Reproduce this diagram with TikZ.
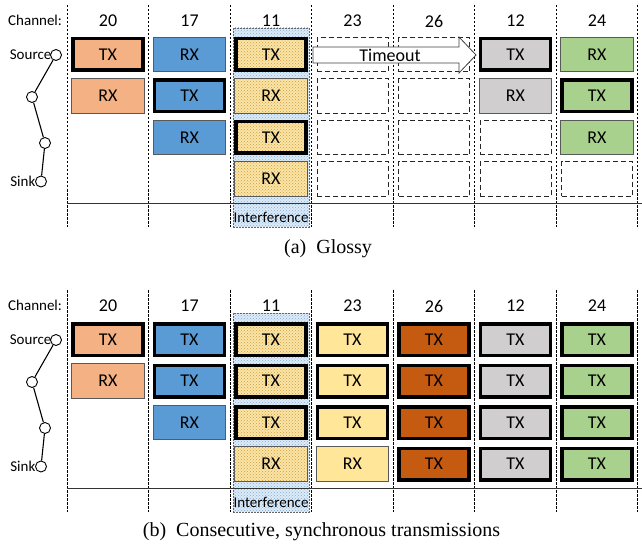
\documentclass[tikz,border=0pt]{standalone}
\usepackage{fontspec}
\setmainfont{Carlito}
\newfontfamily\capfont{Liberation Serif}
\usetikzlibrary{patterns}

\definecolor{chA}{HTML}{F4B183}  % channel 20
\definecolor{chB}{HTML}{5B9BD5}  % channel 17
\definecolor{chCbase}{HTML}{FAE6A8}
\definecolor{chCdot}{HTML}{D39A38}
\definecolor{chD}{HTML}{FFE699}  % channel 23
\definecolor{chE}{HTML}{C55A11}  % channel 26
\definecolor{chF}{HTML}{D0CECE}  % channel 12
\definecolor{chG}{HTML}{A9D18E}  % channel 24
\definecolor{intbase}{HTML}{DDEBF7}
\definecolor{intdot}{HTML}{7FAEDC}

\begin{document}
\begin{tikzpicture}[x=1pt,y=-1pt,
  slot/.style={minimum width=72.5pt, minimum height=34.5pt, inner sep=0pt,
    font=\fontsize{18}{18}\selectfont},
  tx/.style={slot, draw=black, line width=3.5pt, minimum width=70pt, minimum height=31.5pt},
  rx/.style={slot, draw=black!65, line width=0.9pt},
  idle/.style={slot, draw=black!85, line width=0.9pt, dash pattern=on 5pt off 3pt,
    minimum width=71pt},
  ch1/.style={fill=chA},
  ch2/.style={fill=chB},
  ch3/.style={preaction={fill=chCbase}, preaction={pattern=crosshatch dots, pattern color=chCdot}},
  ch4/.style={fill=chD},
  ch5/.style={fill=chE},
  ch6/.style={fill=chF},
  ch7/.style={fill=chG},
  interf/.style={draw=black!60, line width=0.6pt, dash pattern=on 2pt off 1pt,
    preaction={fill=intbase}, preaction={pattern=crosshatch dots, pattern color=intdot},
    minimum width=76pt, minimum height=199pt, inner sep=0pt},
  gridline/.style={black, line width=0.7pt, dash pattern=on 2.5pt off 1.5pt},
  baseline/.style={black!80, line width=1pt},
  lbl/.style={font=\fontsize{15}{15}\selectfont, inner sep=0pt},
  chnum/.style={font=\fontsize{18}{18}\selectfont, inner sep=0pt},
  vtx/.style={circle, draw=black, fill=white, line width=0.9pt, minimum size=11pt, inner sep=0pt},
  hop/.style={black, line width=1.1pt},
  caption/.style={font=\capfont\fontsize{20}{20}\selectfont, inner sep=0pt},
  blockarrow/.style={draw=black!75, fill=white, line width=0.8pt, line join=miter}
]
\useasboundingbox (0,0) rectangle (642,548);

% ---------- one panel: background, grid, relay chain, channel numbers ----------
\foreach \P/\dy in {a/0,b/285}{
  \begin{scope}[shift={(0,\dy)}]
    % interference column behind channel 11
    \node[interf] (\P-int) at (271,127.5) {};
    \node[lbl] (\P-intlabel) at (271,217) {Interference};
    % slot separators
    \foreach \x in {67,148.5,230,311.5,393,474.5,556,637.5}
      \draw[gridline] (\x,5) -- (\x,227);
    % time axis
    \coordinate (\P-axl) at (67,203);
    \coordinate (\P-axr) at (642,203);
    \draw[baseline] (\P-axl) -- (\P-axr);
    % channel header
    \node[lbl, anchor=west] (\P-chlabel) at (8,20) {Channel:};
    \foreach \c/\n in {1/20,2/17,3/11,4/23,5/26,6/12,7/24}
      \node[chnum] (\P-ch\c) at ({26.5+81.5*\c},21) {\n};
    % multi-hop chain from source to sink
    \node[vtx] (\P-src) at (56,55) {};
    \node[vtx] (\P-h1)  at (32,97) {};
    \node[vtx] (\P-h2)  at (45,143) {};
    \node[vtx] (\P-snk) at (41,181.5) {};
    \draw[hop] (\P-src) -- (\P-h1) -- (\P-h2) -- (\P-snk);
    \node[lbl, anchor=east] (\P-srclabel) at ([xshift=1.5pt]\P-src.west) {Source};
    \node[lbl, anchor=east] (\P-snklabel) at ([xshift=0.5pt]\P-snk.west) {Sink};
  \end{scope}
}

% ---------- (a) Glossy ----------
\foreach \c/\r/\k/\t in {
  1/1/tx/TX, 1/2/rx/RX,
  2/1/rx/RX, 2/2/tx/TX, 2/3/rx/RX,
  3/1/tx/TX, 3/2/rx/RX, 3/3/tx/TX, 3/4/rx/RX,
  6/1/tx/TX, 6/2/rx/RX,
  7/1/rx/RX, 7/2/tx/TX, 7/3/rx/RX}
  \node[\k, ch\c] (a-\c-\r) at ({26.5+81.5*\c},{13+41.5*\r}) {\t};
\foreach \c/\r in {4/1,4/2,4/3,4/4,5/1,5/2,5/3,5/4,6/3,6/4,7/4}
  \node[idle] (a-\c-\r) at ({26.5+81.5*\c},{13+41.5*\r}) {};

% timeout block arrow across the silent slots
\draw[blockarrow] (313,47) -- (459,47) -- (459,37) -- (476,55) -- (459,73)
  -- (459,63) -- (313,63) -- cycle;
\node[chnum] (a-timeout) at (390,55) {Timeout};

\node[caption] (a-cap) at (328,249) {(a)\enspace Glossy};

% ---------- (b) consecutive, synchronous transmissions ----------
\foreach \c/\r/\k/\t in {
  1/1/tx/TX, 1/2/rx/RX,
  2/1/tx/TX, 2/2/tx/TX, 2/3/rx/RX,
  3/1/tx/TX, 3/2/tx/TX, 3/3/tx/TX, 3/4/rx/RX,
  4/1/tx/TX, 4/2/tx/TX, 4/3/tx/TX, 4/4/rx/RX,
  5/1/tx/TX, 5/2/tx/TX, 5/3/tx/TX, 5/4/tx/TX,
  6/1/tx/TX, 6/2/tx/TX, 6/3/tx/TX, 6/4/tx/TX,
  7/1/tx/TX, 7/2/tx/TX, 7/3/tx/TX, 7/4/tx/TX}
  \node[\k, ch\c] (b-\c-\r) at ({26.5+81.5*\c},{298+41.5*\r}) {\t};

\node[caption] (b-cap) at (321.5,532) {(b)\enspace Consecutive, synchronous transmissions};
\end{tikzpicture}
\end{document}
